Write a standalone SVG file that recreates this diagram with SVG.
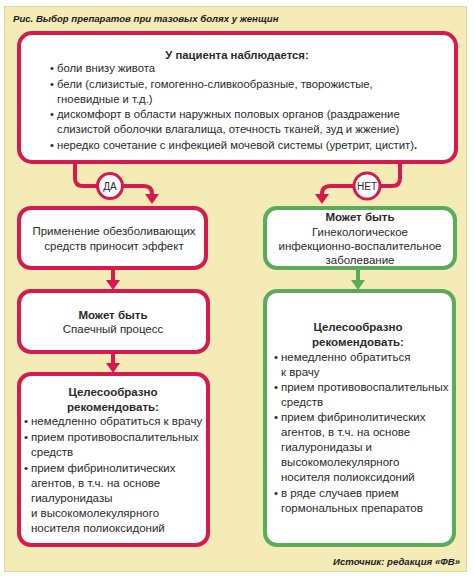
<svg xmlns="http://www.w3.org/2000/svg" width="474" height="578" viewBox="0 0 474 578">
<style>
text{font-family:"Liberation Sans",Arial,sans-serif;fill:#2a2a2a;font-size:11.5px}
.top text{font-size:11.3px}
.b{font-weight:bold}
.c{text-anchor:middle}
.t{font-weight:bold;font-style:italic;font-size:9.6px;fill:#1a1a1a}
.pk{fill:#fff;stroke:#d6194f;stroke-width:4}
.gr{fill:#fff;stroke:#5aac5a;stroke-width:4}
.lp{fill:none;stroke:#d6194f;stroke-width:4;stroke-linejoin:round}
.lg{fill:none;stroke:#5aac5a;stroke-width:4}
.ap{fill:#d6194f}
.ag{fill:#5aac5a}
</style>
<rect x="0" y="0" width="474" height="578" fill="#ffffff"/>
<rect x="4.5" y="6.5" width="462" height="565" fill="#f4ebb7" stroke="#e2d69c" stroke-width="1"/>
<text class="t" x="13" y="22">Рис. Выбор препаратов при тазовых болях у женщин</text>

<g id="connectors">
<path class="lp" d="M75 162 V178 Q75 186 83 186 H144 Q152 186 152 194 V196"/>
<polygon class="ap" points="145,194 159,194 152,204"/>
<path class="lp" d="M400 162 V178 Q400 186 392 186 H330 Q322 186 322 194 V196"/>
<polygon class="ap" points="315,194 329,194 322,204"/>
<line class="lp" x1="113" y1="268" x2="113" y2="282"/>
<polygon class="ap" points="106,280 120,280 113,290"/>
<line class="lp" x1="113" y1="352" x2="113" y2="365"/>
<polygon class="ap" points="106,363 120,363 113,373"/>
<line class="lg" x1="358" y1="268" x2="358" y2="282"/>
<polygon class="ag" points="351,280 365,280 358,290"/>
</g>

<g id="yes">
<circle cx="110" cy="186" r="12.5" fill="#fff" stroke="#d6194f" stroke-width="3"/>
<text class="c" x="110" y="190" style="font-size:10px">ДА</text>
</g>
<g id="no">
<circle cx="367" cy="186" r="13" fill="#fff" stroke="#d6194f" stroke-width="3"/>
<text class="c" x="367" y="190" style="font-size:10px">НЕТ</text>
</g>

<g id="symptoms" class="top">
<rect class="pk" x="19" y="33" width="437" height="129" rx="13"/>
<text class="b c" x="237" y="59">У пациента наблюдается:</text>
<text x="50" y="72">•</text><text x="57" y="72">боли внизу живота</text>
<text x="50" y="88">•</text><text x="57" y="88">бели (слизистые, гомогенно-сливкообразные, творожистые,</text>
<text x="57" y="103">гноевидные и т.д.)</text>
<text x="50" y="118">•</text><text x="57" y="118">дискомфорт в области наружных половых органов (раздражение</text>
<text x="57" y="133">слизистой оболочки влагалища, отечность тканей, зуд и жжение)</text>
<text x="50" y="149">•</text><text x="57" y="149">нередко сочетание с инфекцией мочевой системы (уретрит, цистит)<tspan class="b">.</tspan></text>
</g>

<g id="analgesic">
<rect class="pk" x="19" y="208" width="187" height="60" rx="12"/>
<text class="c" x="114" y="235">Применение обезболивающих</text>
<text class="c" x="114" y="250">средств приносит эффект</text>
</g>

<g id="infection">
<rect class="gr" x="265" y="208" width="190" height="60" rx="12"/>
<text class="b c" x="360" y="221">Может быть</text>
<text class="c" x="360" y="236">Гинекологическое</text>
<text class="c" x="360" y="250">инфекционно-воспалительное</text>
<text class="c" x="360" y="264">заболевание</text>
</g>

<g id="adhesion">
<rect class="pk" x="19" y="291" width="189" height="61" rx="12"/>
<text class="b c" x="113" y="319">Может быть</text>
<text class="c" x="113" y="333">Спаечный процесс</text>
</g>

<g id="rec-left">
<rect class="pk" x="19" y="374" width="189" height="171" rx="12"/>
<text class="b c" x="113" y="396">Целесообразно</text>
<text class="b c" x="113" y="411">рекомендовать:</text>
<text x="24" y="425">•</text><text x="31" y="425">немедленно обратиться к врачу</text>
<text x="24" y="441">•</text><text x="31" y="441">прием противовоспалительных</text>
<text x="31" y="456">средств</text>
<text x="24" y="472">•</text><text x="31" y="472">прием фибринолитических</text>
<text x="31" y="487">агентов, в т.ч. на основе</text>
<text x="31" y="502">гиалуронидазы</text>
<text x="31" y="517">и высокомолекулярного</text>
<text x="31" y="532">носителя полиоксидоний</text>
</g>

<g id="rec-right">
<rect class="gr" x="265" y="291" width="189" height="254" rx="12"/>
<text class="b c" x="358" y="331">Целесообразно</text>
<text class="b c" x="358" y="346">рекомендовать:</text>
<text x="274" y="361">•</text><text x="281" y="361">немедленно обратиться</text>
<text x="281" y="376">к врачу</text>
<text x="274" y="391">•</text><text x="281" y="391">прием противовоспалительных</text>
<text x="281" y="406">средств</text>
<text x="274" y="421">•</text><text x="281" y="421">прием фибринолитических</text>
<text x="281" y="436">агентов, в т.ч. на основе</text>
<text x="281" y="451">гиалуронидазы и</text>
<text x="281" y="466">высокомолекулярного</text>
<text x="281" y="481">носителя полиоксидоний</text>
<text x="274" y="497">•</text><text x="281" y="497">в ряде случаев прием</text>
<text x="281" y="512">гормональных препаратов</text>
</g>

<text class="t" x="460" y="565" style="text-anchor:end">Источник: редакция «ФВ»</text>
</svg>
